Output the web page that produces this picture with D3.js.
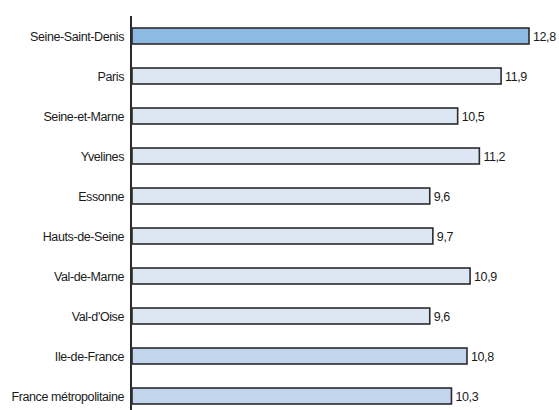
<!DOCTYPE html>
<html><head><meta charset="utf-8">
<script src="https://cdn.jsdelivr.net/npm/d3@7"></script>
<style>body{margin:0;background:#fff}svg{display:block}text{font-family:"Liberation Sans",Arial,sans-serif;font-size:12.5px;letter-spacing:-0.4px;fill:#1a1a1a}</style>
</head><body><svg id="c" width="559" height="410"></svg>
<script>
const categories = ["Seine-Saint-Denis","Paris","Seine-et-Marne","Yvelines","Essonne","Hauts-de-Seine","Val-de-Marne","Val-d'Oise","Ile-de-France","France métropolitaine"];
const values = [12.8,11.9,10.5,11.2,9.6,9.7,10.9,9.6,10.8,10.3];
const labels = ["12,8","11,9","10,5","11,2","9,6","9,7","10,9","9,6","10,8","10,3"];
const groups = ["focus","dept","dept","dept","dept","dept","dept","dept","ref","ref"];
const colors = {focus:"#8dbae3", dept:"#dce7f3", ref:"#c2d5ec"};

const svg = d3.select("#c");
const x0 = 132;
const x = d3.scaleLinear().domain([0,12.8]).range([x0, 529]);
const y = d3.scaleBand().domain(categories).range([16, 416]).paddingInner(0.6).paddingOuter(0.3);

svg.selectAll("rect.bar").data(categories).join("rect")
  .attr("class","bar")
  .attr("x", x(0))
  .attr("y", d => y(d))
  .attr("width", (d,i) => x(values[i]) - x(0))
  .attr("height", y.bandwidth())
  .attr("fill", (d,i) => colors[groups[i]])
  .attr("stroke", "#2b2b2b")
  .attr("stroke-width", 1.6);

svg.append("line").attr("x1",131).attr("x2",131).attr("y1",16).attr("y2",410)
  .attr("stroke","#2b2b2b").attr("stroke-width",2);

svg.selectAll("text.cat").data(categories).join("text")
  .attr("class","cat")
  .attr("x", 124)
  .attr("y", d => y(d) + y.bandwidth()/2)
  .attr("dy","0.36em")
  .attr("text-anchor","end")
  .text(d => d);

svg.selectAll("text.val").data(categories).join("text")
  .attr("class","val")
  .attr("x", (d,i) => x(values[i]) + 4)
  .attr("y", d => y(d) + y.bandwidth()/2)
  .attr("dy","0.36em")
  .text((d,i) => labels[i]);
</script></body></html>
